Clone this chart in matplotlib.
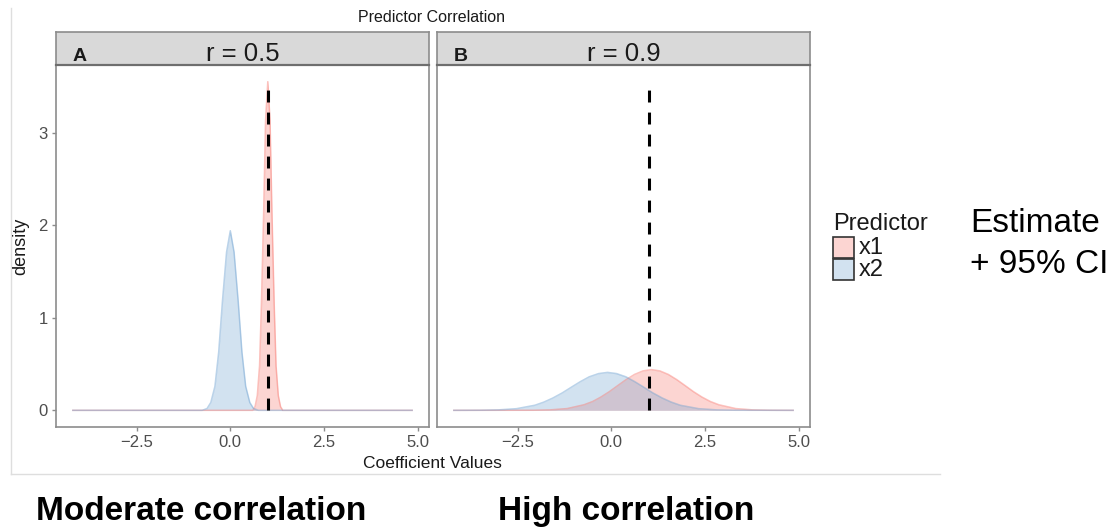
import matplotlib
matplotlib.use("Agg")
import matplotlib.pyplot as plt
from matplotlib.patches import Rectangle
from matplotlib.lines import Line2D

plt.rcParams['font.family'] = ['Liberation Sans', 'DejaVu Sans']

# density of the coefficient estimates, r = 0.5
a_x1_x = [-4.2, 0.6, 0.66, 0.72, 0.78, 0.83, 0.89, 0.94, 1.0, 1.06, 1.11, 1.17, 1.22, 1.28, 1.34, 1.4, 4.85]
a_x1_y = [0, 0, 0.04, 0.16, 0.48, 1.15, 2.15, 3.13, 3.55, 3.13, 2.15, 1.15, 0.48, 0.16, 0.04, 0, 0]
a_x2_x = [-4.2, -0.75, -0.62, -0.52, -0.41, -0.31, -0.21, -0.1, 0.0, 0.1, 0.21, 0.31, 0.41, 0.52, 0.62, 0.75, 4.85]
a_x2_y = [0, 0, 0.02, 0.085, 0.26, 0.63, 1.18, 1.71, 1.94, 1.71, 1.18, 0.63, 0.26, 0.085, 0.02, 0, 0]

# density of the coefficient estimates, r = 0.9
b_x1_x = [-4.2, -2.08, -1.63, -1.18, -0.73, -0.5, -0.28, -0.055, 0.17, 0.395, 0.62, 0.845, 1.07,
          1.295, 1.52, 1.745, 1.97, 2.195, 2.42, 2.645, 2.87, 3.32, 3.77, 4.22, 4.85]
b_x1_y = [0, 0.001, 0.005, 0.019, 0.06, 0.095, 0.143, 0.201, 0.267, 0.332, 0.388, 0.426, 0.44,
          0.426, 0.388, 0.332, 0.267, 0.201, 0.143, 0.095, 0.06, 0.019, 0.005, 0.001, 0]
b_x2_x = [-4.2, -3.5, -3.01, -2.53, -2.04, -1.8, -1.56, -1.31, -1.07, -0.83, -0.59, -0.34, -0.1,
          0.14, 0.39, 0.63, 0.87, 1.11, 1.36, 1.6, 1.84, 2.33, 2.81, 3.3, 4.85]
b_x2_y = [0, 0.001, 0.005, 0.018, 0.055, 0.089, 0.133, 0.188, 0.249, 0.309, 0.362, 0.397, 0.41,
          0.397, 0.362, 0.309, 0.249, 0.188, 0.133, 0.089, 0.055, 0.018, 0.005, 0.001, 0]

true_coef = 1.0
true_line_top = 3.5

panel_letters = ["A", "B"]
panel_titles = ["r = 0.5", "r = 0.9"]
predictors = ["x1", "x2"]
x_ticks = [-2.5, 0.0, 2.5, 5.0]
x_tick_labels = ["\u22122.5", "0.0", "2.5", "5.0"]
y_ticks = [0, 1, 2, 3]
bottom_labels = ["Moderate correlation", "High correlation"]

red = "#F8766D"
blue = "#6a9fd0"
colors = [red, blue]

fig = plt.figure(figsize=(11.19, 5.27), dpi=100)

W, H = 1119, 527
panel_left = [56 / W, 437 / W]
panel_w = 373 / W
panel_bottom = 1 - 427 / H
panel_h = (427 - 65) / H
strip_h = 33 / H

curves = [[(a_x1_x, a_x1_y), (a_x2_x, a_x2_y)],
          [(b_x1_x, b_x1_y), (b_x2_x, b_x2_y)]]

for i in range(2):
    ax = fig.add_axes([panel_left[i], panel_bottom, panel_w, panel_h])
    for (xs, ys), c in zip(curves[i], colors):
        ax.fill_between(xs, ys, 0, color=c, alpha=0.3, linewidth=0)
        ax.plot(xs, ys, color=c, alpha=0.45, linewidth=1.1)
    ax.plot([true_coef, true_coef], [0, true_line_top], color="black",
            linewidth=2.2, linestyle=(0, (3.9, 3.3)))
    ax.set_xlim(-4.65, 5.3)
    ax.set_ylim(-0.18, 3.73)
    ax.set_xticks(x_ticks, x_tick_labels)
    ax.set_yticks(y_ticks)
    for s in ax.spines.values():
        s.set_color("#8c8c8c")
        s.set_linewidth(1.2)
    ax.tick_params(colors="#8c8c8c", labelcolor="#4d4d4d", labelsize=12,
                   length=3, width=1, pad=3)
    if i == 1:
        # shared y scale: only the left panel carries the labels
        ax.set_yticklabels([])
        ax.tick_params(axis="y", length=0)

    strip = fig.add_axes([panel_left[i], panel_bottom + panel_h, panel_w, strip_h])
    strip.set_facecolor("#d9d9d9")
    strip.set_xticks([])
    strip.set_yticks([])
    for s in strip.spines.values():
        s.set_color("#8c8c8c")
        s.set_linewidth(1.2)
    strip.spines["bottom"].set_color("#6e6e6e")
    strip.spines["bottom"].set_linewidth(1.6)
    strip.text(0.045, 0.11, panel_letters[i], transform=strip.transAxes,
               fontsize=14, fontweight="bold", color="#1a1a1a", va="baseline")
    strip.text(0.5, 0.11, panel_titles[i], transform=strip.transAxes,
               fontsize=18.5, color="#1a1a1a", ha="center", va="baseline")

fig.text(432 / W, 1 - 17 / H, "Predictor Correlation", ha="center", va="center",
         fontsize=11.5, color="#1a1a1a")
fig.text(21 / W, 1 - 246 / H, "density", rotation=90, ha="center", va="center",
         fontsize=13, color="#1a1a1a")
fig.text(432 / W, 1 - 463 / H, "Coefficient Values", ha="center", va="center",
         fontsize=12.5, color="#1a1a1a")

# legend
fig.text(833 / W, 1 - 230 / H, "Predictor", ha="left", va="baseline",
         fontsize=17, color="#1a1a1a")
for k, (name, c) in enumerate(zip(predictors, colors)):
    top = 237 + 22 * k
    fig.add_artist(Rectangle((833 / W, 1 - (top + 21) / H), 21 / W, 21 / H,
                             transform=fig.transFigure, facecolor=c, alpha=0.3,
                             edgecolor="none"))
    fig.add_artist(Rectangle((833 / W, 1 - (top + 21) / H), 21 / W, 21 / H,
                             transform=fig.transFigure, facecolor="none",
                             edgecolor="#333333", linewidth=1.2))
    fig.text(859 / W, 1 - (top + 11) / H, name, ha="left", va="center",
             fontsize=17, color="#1a1a1a")

fig.text(970 / W, 1 - 232 / H, "Estimate", ha="left", va="baseline", fontsize=24)
fig.text(970 / W, 1 - 273 / H, "+ 95% CI", ha="left", va="baseline", fontsize=24)

# light frame around the plot image
fig.add_artist(Line2D([11 / W, 11 / W], [1 - 8 / H, 1 - 474 / H],
                      transform=fig.transFigure, color="#dedede", linewidth=1))
fig.add_artist(Line2D([11 / W, 940 / W], [1 - 474 / H, 1 - 474 / H],
                      transform=fig.transFigure, color="#dedede", linewidth=1))

fig.text(36 / W, 1 - 520 / H, bottom_labels[0], ha="left", va="baseline",
         fontsize=24, fontweight="bold")
fig.text(498 / W, 1 - 520 / H, bottom_labels[1], ha="left", va="baseline",
         fontsize=24, fontweight="bold")

fig.savefig("out.png", dpi=100)
